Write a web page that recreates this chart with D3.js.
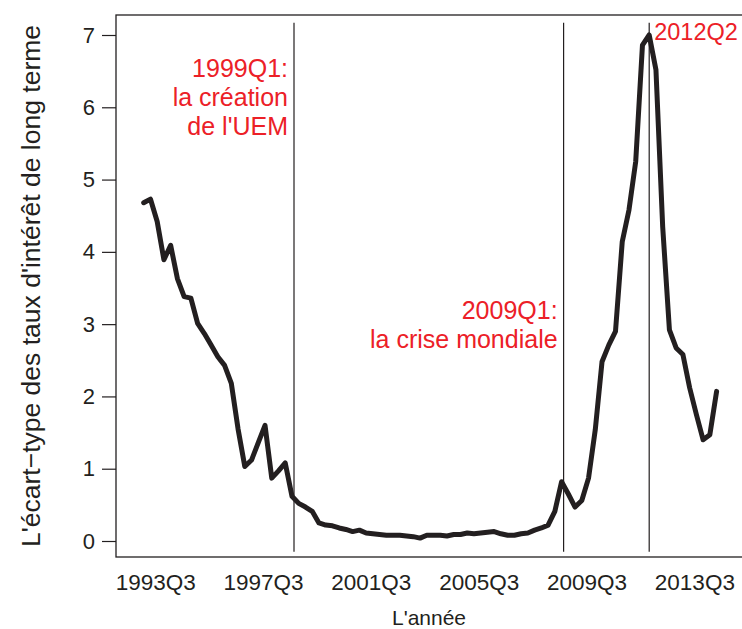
<!DOCTYPE html>
<html>
<head>
<meta charset="utf-8">
<script src="https://cdn.jsdelivr.net/npm/d3@7"></script>
<style>
	body { margin: 0; background: #fff; }
	svg text { font-family: "Liberation Sans", Arial, Helvetica, sans-serif; }
</style>
</head>
<body>
<div id="chart"></div>
<script>
// écart-type trimestriel, de 1993Q3 à 2014Q4
var spreadValues = [
	4.68, 4.73, 4.42, 3.89, 4.09, 3.63, 3.38, 3.36, 3.01, 2.87,
	2.71, 2.55, 2.43, 2.18, 1.55, 1.03, 1.12, 1.36, 1.60, 0.87,
	0.97, 1.08, 0.62, 0.52, 0.47, 0.41, 0.25, 0.22, 0.21, 0.18,
	0.16, 0.13, 0.15, 0.11, 0.10, 0.09, 0.08, 0.08, 0.08, 0.07,
	0.06, 0.04, 0.08, 0.08, 0.08, 0.07, 0.09, 0.09, 0.11, 0.10,
	0.11, 0.12, 0.13, 0.10, 0.08, 0.08, 0.10, 0.11, 0.15, 0.18,
	0.22, 0.41, 0.82, 0.65, 0.47, 0.56, 0.87, 1.54, 2.48, 2.71,
	2.90, 4.14, 4.58, 5.25, 6.86, 7.00, 6.52, 4.35, 2.92, 2.67,
	2.58, 2.12, 1.75, 1.40, 1.47, 2.07
];
var tickLabels = ['1993Q3', '1997Q3', '2001Q3', '2005Q3', '2009Q3', '2013Q3'];
var tickIndex = [1.7, 17.7, 33.7, 49.7, 65.7, 81.7];
var yTicks = [0, 1, 2, 3, 4, 5, 6, 7];
var eventIndex = [22.3, 62.3, 75];
var eventLabels = [
	['1999Q1:', 'la création', "de l'UEM"],
	['2009Q1:', 'la crise mondiale'],
	['2012Q2']
];

drawChart();

function drawChart(){
	var width = 742;
	var height = 629;
	var box = {left: 116, top: 15, right: 746, bottom: 557};
	var ink = '#231f20';
	var red = '#ec2027';

	var svg = d3.select('#chart')
		.append('svg')
		.attr('width', width)
		.attr('height', height);

	var x = d3.scaleLinear()
		.domain([0, spreadValues.length - 1])
		.range([143.7, 143.7 + 6.74 * (spreadValues.length - 1)]);

	var y = d3.scaleLinear()
		.domain([0, 7])
		.range([541, 35]);

	// cadre
	svg.append('rect')
		.attr('x', box.left)
		.attr('y', box.top)
		.attr('width', box.right - box.left)
		.attr('height', box.bottom - box.top)
		.attr('fill', 'none')
		.attr('stroke', ink)
		.attr('stroke-width', 1.3);

	// axe y
	var yAxis = svg.append('g')
		.attr('transform', 'translate(' + box.left + ',0)')
		.call(d3.axisLeft(y)
			.tickValues(yTicks)
			.tickSize(14)
			.tickPadding(7)
			.tickFormat(d3.format('d')));
	yAxis.select('.domain').remove();
	yAxis.selectAll('line').attr('stroke', ink).attr('stroke-width', 1.2);
	yAxis.selectAll('text')
		.attr('fill', ink)
		.style('font-size', '22px');

	// axe x sans graduations
	var xAxis = svg.append('g')
		.attr('transform', 'translate(0,' + box.bottom + ')')
		.call(d3.axisBottom(x)
			.tickValues(tickIndex)
			.tickSize(0)
			.tickPadding(17)
			.tickFormat(function(d, i){ return tickLabels[i]; }));
	xAxis.select('.domain').remove();
	xAxis.selectAll('text')
		.attr('fill', ink)
		.style('font-size', '22.5px');

	// lignes verticales des événements
	svg.selectAll('.event')
		.data(eventIndex)
		.enter()
		.append('line')
		.attr('class', 'event')
		.attr('x1', function(d){ return x(d); })
		.attr('x2', function(d){ return x(d); })
		.attr('y1', y(7.17))
		.attr('y2', y(-0.15))
		.attr('stroke', ink)
		.attr('stroke-width', 1.2);

	var line = d3.line()
		.x(function(d, i){ return x(i); })
		.y(function(d){ return y(d); });

	svg.append('path')
		.datum(spreadValues)
		.attr('d', line)
		.attr('fill', 'none')
		.attr('stroke', ink)
		.attr('stroke-width', 5)
		.attr('stroke-linejoin', 'round')
		.attr('stroke-linecap', 'round');

	// textes rouges
	var notes = [
		{dx: -6, y0: 77, anchor: 'end', size: 25},
		{dx: -6, y0: 319, anchor: 'end', size: 25},
		{dx: 5, y0: 40, anchor: 'start', size: 23.5}
	];
	eventLabels.forEach(function(lines, k){
		var t = svg.append('text')
			.attr('fill', red)
			.style('font-size', notes[k].size + 'px')
			.attr('text-anchor', notes[k].anchor);
		lines.forEach(function(s, j){
			t.append('tspan')
				.attr('x', x(eventIndex[k]) + notes[k].dx)
				.attr('y', notes[k].y0 + j * 29)
				.text(s);
		});
	});

	// titres des axes
	svg.append('text')
		.attr('x', (box.left + 742) / 2)
		.attr('y', 625)
		.attr('text-anchor', 'middle')
		.attr('fill', ink)
		.style('font-size', '21px')
		.text("L'année");

	svg.append('text')
		.attr('transform', 'translate(40,' + ((box.top + box.bottom) / 2) + ') rotate(-90)')
		.attr('text-anchor', 'middle')
		.attr('fill', ink)
		.style('font-size', '26.5px')
		.text("L'écart−type des taux d'intérêt de long terme");
}
</script>
</body>
</html>
